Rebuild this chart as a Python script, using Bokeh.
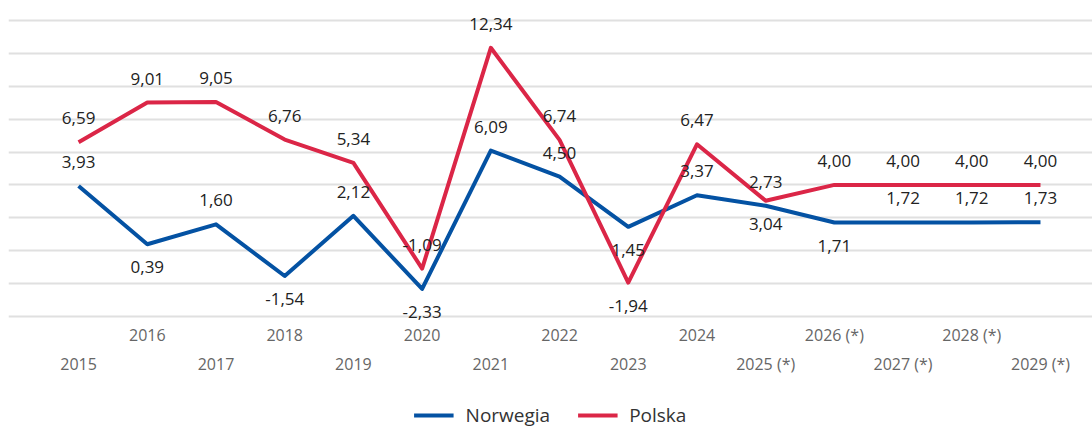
from bokeh.plotting import figure
from bokeh.models import (ColumnDataSource, FixedTicker, Grid, Legend,
                          LegendItem, Range1d)
from bokeh.core.properties import value
from bokeh.embed import file_html
from bokeh.resources import INLINE

years = list(range(2015, 2030))
tick_labels = ["2015", "2016", "2017", "2018", "2019", "2020", "2021", "2022",
               "2023", "2024", "2025 (*)", "2026 (*)", "2027 (*)", "2028 (*)", "2029 (*)"]
norwegia = [3.93, 0.39, 1.60, -1.54, 2.12, -2.33, 6.09, 4.50, 1.45, 3.37, 2.73, 1.71, 1.72, 1.72, 1.73]
polska = [6.59, 9.01, 9.05, 6.76, 5.34, -1.09, 12.34, 6.74, -1.94, 6.47, 3.04, 4.00, 4.00, 4.00, 4.00]
grid_values = [-4, -2, 0, 2, 4, 6, 8, 10, 12, 14]

# label placement (1 = above point, 0 = below point)
norwegia_above = [1, 0, 1, 0, 1, 0, 1, 1, 0, 1, 1, 0, 1, 1, 1]
polska_above = [1, 1, 1, 1, 1, 1, 1, 1, 0, 1, 0, 1, 1, 1, 1]

BLUE = "#0452a3"
RED = "#db2647"
FONT = "Open Sans"


def fmt(v):
    return f"{v:.2f}".replace(".", ",")


def make_source(vals, above):
    return ColumnDataSource(dict(
        x=years, y=vals, label=[fmt(v) for v in vals],
        dy=[-24 if a else 23 for a in above]))


src_n = make_source(norwegia, norwegia_above)
src_p = make_source(polska, polska_above)

# category axis labels, staggered in two rows beneath the lowest grid line
axis_base = min(grid_values)
src_ticks = ColumnDataSource(dict(
    x=years, y=[axis_base] * len(years), label=tick_labels,
    dy=[48 if i % 2 == 0 else 19 for i in range(len(years))]))

p = figure(width=1092, height=428, frame_width=1084, frame_height=420,
           output_backend="svg", toolbar_location=None,
           x_axis_location=None, y_axis_location=None,
           x_range=Range1d(2013.98, 2029.757), y_range=Range1d(-10.817, 14.73),
           min_border_left=8, min_border_right=0, min_border_top=8, min_border_bottom=0,
           background_fill_color="white", border_fill_color="white", outline_line_color=None)
p.title.visible = False
for g in list(p.center):
    g.visible = False

grid = Grid(dimension=1, ticker=FixedTicker(ticks=grid_values),
            grid_line_color="#e0e0e0", grid_line_width=2)
p.add_layout(grid, "center")

rn = p.line("x", "y", source=src_n, line_color=BLUE, line_width=4, line_join="round")
rp = p.line("x", "y", source=src_p, line_color=RED, line_width=4, line_join="round")

for src in (src_n, src_p):
    p.text("x", "y", text="label", source=src, y_offset="dy",
           text_font=value(FONT), text_font_size="17px", text_color="#222222",
           text_align="center", text_baseline="middle")

p.text("x", "y", text="label", source=src_ticks, y_offset="dy",
       text_font=value(FONT), text_font_size="16px", text_color="#666666",
       text_align="center", text_baseline="middle")

legend = Legend(items=[LegendItem(label="Norwegia", renderers=[rn]),
                       LegendItem(label="Polska", renderers=[rp])],
                orientation="horizontal", location="bottom_center",
                border_line_color=None, background_fill_alpha=0,
                label_text_font=FONT, label_text_font_size="19px", label_text_color="#333333",
                glyph_width=40, glyph_height=20, label_standoff=12, spacing=27,
                padding=0, margin=0)
p.add_layout(legend, "center")

open("out.html", "w").write(file_html(p, INLINE))
